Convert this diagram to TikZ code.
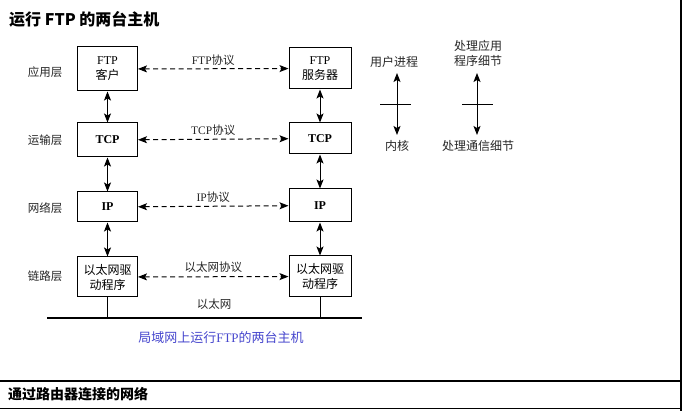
\documentclass[tikz,border=0pt]{standalone}
\usepackage{fontspec}
\setmainfont{Liberation Serif}
\newfontfamily\cjk{Noto Sans CJK SC}
\usetikzlibrary{arrows.meta}
\definecolor{capblue}{RGB}{70,70,205}
\tikzset{
  layerbox/.style={draw,line width=1pt,minimum width=60pt,align=center,inner sep=1pt,
    font=\fontsize{12}{15}\selectfont},
  peer/.style={{Stealth[length=9pt,width=7pt,inset=2pt]}-{Stealth[length=9pt,width=7pt,inset=2pt]},
    dash pattern=on 5pt off 3.5pt,line width=1pt},
  updown/.style={{Stealth[length=9pt,width=7pt,inset=2pt]}-{Stealth[length=9pt,width=7pt,inset=2pt]},line width=1pt},
  lbl/.style={font=\cjk\fontsize{11.5}{14}\selectfont,text=black!85,inner sep=2pt},
  peerlbl/.style={font=\fontsize{11.5}{14}\selectfont,text=black!85,inner sep=3pt}
}
\begin{document}
\begin{tikzpicture}[x=1pt,y=-1pt]
  \useasboundingbox (0,0) rectangle (682,411);
  % frame
  \draw[line width=1.5pt] (681,0) -- (681,411);
  \draw[line width=1.5pt] (0,381) -- (681,381) (0,408.5) -- (681,408.5);
  \node[font=\cjk\bfseries\fontsize{16}{18}\selectfont,anchor=west,inner sep=0pt] (title) at (9,19) {运行 FTP 的两台主机};
  \node[font=\cjk\bfseries\fontsize{14}{16}\selectfont,anchor=west,inner sep=0pt] (subtitle) at (8,394) {通过路由器连接的网络};
  % layer names
  \node[lbl] (appname) at (45,72) {应用层};
  \node[lbl] (trnname) at (45,140) {运输层};
  \node[lbl] (netname) at (45,208) {网络层};
  \node[lbl] (lnkname) at (45,276) {链路层};
  % two hosts
  \node[layerbox,minimum height=44pt] (ftpL) at (107.5,69) {FTP\\{\cjk 客户}};
  \node[layerbox,minimum height=34pt] (tcpL) at (107.5,140) {\textbf{TCP}};
  \node[layerbox,minimum height=30pt] (ipL) at (107.5,207) {\textbf{IP}};
  \node[layerbox,minimum height=40pt] (ethL) at (107.5,277) {\cjk 以太网驱\\\cjk 动程序};
  \node[layerbox,minimum height=41pt,minimum width=62pt] (ftpR) at (320,68.5) {FTP\\{\cjk 服务器}};
  \node[layerbox,minimum height=31pt,minimum width=62pt] (tcpR) at (320,138.5) {\textbf{TCP}};
  \node[layerbox,minimum height=33pt,minimum width=62pt] (ipR) at (320,205.5) {\textbf{IP}};
  \node[layerbox,minimum height=41pt,minimum width=62pt] (ethR) at (320,276.5) {\cjk 以太网驱\\\cjk 动程序};
  \draw[updown] (ftpL) -- (tcpL);
  \draw[updown] (tcpL) -- (ipL);
  \draw[updown] (ipL) -- (ethL);
  \draw[updown] (ftpR) -- (tcpR);
  \draw[updown] (tcpR) -- (ipR);
  \draw[updown] (ipR) -- (ethR);
  % peer protocols
  \draw[peer] (ftpL) -- (ftpR) node[midway,above,peerlbl]{FTP{\cjk 协议}};
  \draw[peer] (tcpL) -- (tcpR) node[midway,above,peerlbl]{TCP{\cjk 协议}};
  \draw[peer] (ipL) -- (ipR) node[midway,above,peerlbl]{IP{\cjk 协议}};
  \draw[peer] (ethL) -- (ethR) node[midway,above,peerlbl,yshift=1pt]{\cjk 以太网协议};
  % ethernet
  \coordinate (busW) at (47,318);
  \coordinate (busE) at (362,318);
  \draw[line width=2.2pt] (busW) -- (busE);
  \draw[line width=1pt] (ethL.south) -- (ethL.south |- busW);
  \draw[line width=1pt] (ethR.south) -- (ethR.south |- busW);
  \node[lbl] (ether) at (214,304) {以太网};
  \node[font=\fontsize{13}{16}\selectfont,text=capblue] (caption) at (221,338) {{\cjk 局域网上运行}FTP{\cjk 的两台主机}};
  % legend
  \node[lbl,font=\cjk\fontsize{12}{14}\selectfont] (user) at (394,62) {用户进程};
  \node[lbl,font=\cjk\fontsize{12}{14}\selectfont] (kernel) at (397,146) {内核};
  \draw[updown] (397,73) -- (397,135);
  \draw[line width=1pt] (380,105) -- (411,105);
  \node[lbl,font=\cjk\fontsize{12}{15}\selectfont,align=center] (appdet) at (478,53) {处理应用\\程序细节};
  \node[lbl,font=\cjk\fontsize{12}{14}\selectfont] (comdet) at (478,146) {处理通信细节};
  \draw[updown] (477,73) -- (477,135);
  \draw[line width=1pt] (462,105) -- (493,105);
\end{tikzpicture}
\end{document}
